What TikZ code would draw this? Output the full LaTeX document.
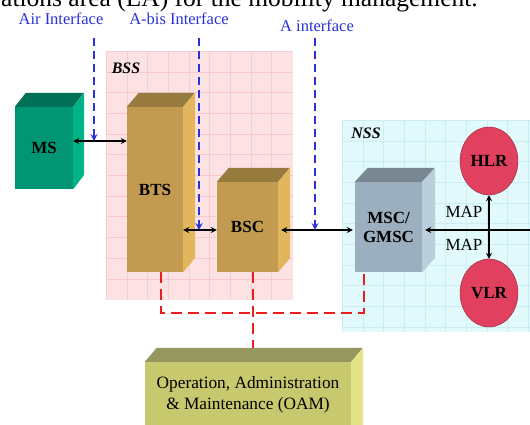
\documentclass[tikz,border=0pt]{standalone}
\usepackage{fontspec}
\setmainfont{Liberation Serif}
\usetikzlibrary{shapes.geometric}

\definecolor{msfront}{RGB}{0,150,115}
\definecolor{mstop}{RGB}{0,112,86}
\definecolor{msside}{RGB}{0,180,135}
\definecolor{btsfront}{RGB}{195,155,80}
\definecolor{btstop}{RGB}{150,122,62}
\definecolor{btsside}{RGB}{226,182,92}
\definecolor{mscfront}{RGB}{155,175,190}
\definecolor{msctop}{RGB}{120,135,145}
\definecolor{mscside}{RGB}{186,206,220}
\definecolor{oamfront}{RGB}{200,200,110}
\definecolor{oamtop}{RGB}{150,150,95}
\definecolor{oamside}{RGB}{228,228,135}
\definecolor{regred}{RGB}{225,65,95}
\definecolor{ifblue}{RGB}{40,50,215}
\definecolor{oamred}{RGB}{235,30,30}
\definecolor{bsspink}{RGB}{253,226,228}
\definecolor{bssgrid}{RGB}{248,202,207}
\definecolor{nsscyan}{RGB}{226,250,252}
\definecolor{nssgrid}{RGB}{202,238,243}

\tikzset{
  box/.style={inner sep=0pt, font=\fontsize{17}{19}\selectfont\bfseries},
  register/.style={ellipse, draw=regred!60!black, fill=regred, minimum width=58pt,
    minimum height=68pt, inner sep=0pt, font=\fontsize{17}{19}\selectfont\bfseries},
  iflabel/.style={text=ifblue, font=\fontsize{16.5}{18}\selectfont},
  ifline/.style={ifblue, line width=2pt, dash pattern=on 8pt off 5pt, ->},
  link/.style={line width=1.6pt, <->},
  oamline/.style={oamred, line width=2pt, dash pattern=on 11pt off 6pt},
}

\begin{document}
\begin{tikzpicture}[>=stealth, x=1pt, y=-1pt]
        \useasboundingbox (0,0) rectangle (530,424);

        % the line of text cut at the top
        \node[anchor=base west, inner sep=0pt, font=\fontsize{25.5}{27}\selectfont] (caption) at (1,6.5)
            {ations area (LA) for the mobility management.};

        % the BSS area with its grid
        \fill[bsspink] (106,51) rectangle (293,300);
        \foreach \i in {0,...,8}
        \draw[bssgrid, line width=0.4pt] (106+\i*20.7,51) -- +(0,249);
        \foreach \i in {0,...,11}
        \draw[bssgrid, line width=0.4pt] (106,51+\i*20.7) -- +(187,0);
        \node[font=\fontsize{16}{18}\selectfont\bfseries\itshape] (bss) at (126,68) {BSS};

        % the NSS area with its grid
        \fill[nsscyan] (342,120) rectangle (530,332);
        \foreach \i in {0,...,9}
        \draw[nssgrid, line width=0.4pt] (342+\i*20.7,120) -- +(0,212);
        \foreach \i in {0,...,10}
        \draw[nssgrid, line width=0.4pt] (342,120+\i*20.7) -- +(188,0);
        \node[font=\fontsize{16}{18}\selectfont\bfseries\itshape] (nss) at (366,133) {NSS};

        % The labels of the interfaces
        \node[iflabel] (air) at (61,19) {Air Interface};
        \node[iflabel] (abis) at (179,19) {A-bis Interface};
        \node[iflabel] (aif) at (317,26) {A interface};

        % the red dashed lines to the OAM
        \draw[oamline] (161,272) -- (161,313) -- (364,313) -- (364,272);
        \draw[oamline] (253,272) -- (253,360);

        % the MS box
        \node[box, fill=msfront, minimum width=58pt, minimum height=82pt] (ms) at (44,148) {MS};
        \fill[mstop] (ms.north west) -- ++(11,-14) -- ++(58,0) -- (ms.north east) -- cycle;
        \fill[msside] (ms.north east) -- ++(11,-14) -- ++(0,82) -- (ms.south east) -- cycle;

        % the BTS box
        \node[box, fill=btsfront, minimum width=56pt, minimum height=165pt] (bts) at (155,189.5) {BTS};
        \fill[btstop] (bts.north west) -- ++(12,-14) -- ++(56,0) -- (bts.north east) -- cycle;
        \fill[btsside] (bts.north east) -- ++(12,-14) -- ++(0,165) -- (bts.south east) -- cycle;

        % the BSC box
        \node[box, fill=btsfront, minimum width=61pt, minimum height=90pt] (bsc) at (247.5,227) {BSC};
        \fill[btstop] (bsc.north west) -- ++(12,-14) -- ++(61,0) -- (bsc.north east) -- cycle;
        \fill[btsside] (bsc.north east) -- ++(12,-14) -- ++(0,90) -- (bsc.south east) -- cycle;

        % the MSC/GMSC box
        \node[box, fill=mscfront, minimum width=67pt, minimum height=90pt, align=center] (msc) at (388.5,227)
            {MSC/\\GMSC};
        \fill[msctop] (msc.north west) -- ++(13,-14) -- ++(67,0) -- (msc.north east) -- cycle;
        \fill[mscside] (msc.north east) -- ++(13,-14) -- ++(0,90) -- (msc.south east) -- cycle;

        % the OAM box
        \node[box, fill=oamfront, minimum width=206pt, minimum height=80pt] (oam) at (248,402) {};
        \fill[oamtop] (oam.north west) -- ++(12,-14) -- ++(206,0) -- (oam.north east) -- cycle;
        \fill[oamside] (oam.north east) -- ++(12,-14) -- ++(0,80) -- (oam.south east) -- cycle;
        \node[font=\fontsize{17.3}{21}\selectfont, align=center] (oamtext) at (248,395)
            {Operation, Administration\\\& Maintenance (OAM)};

        % HLR and VLR
        \node[register] (hlr) at (489,161) {HLR};
        \node[register] (vlr) at (489,293) {VLR};

        % the black arrows between the boxes
        \coordinate (airend) at (94,141);
        \coordinate (abisend) at (199,230);
        \coordinate (aend) at (315,230);
        \coordinate (rightend) at (540,230);
        \draw[link] (ms.east |- airend) -- (bts.west |- airend);
        \draw[link] (bts.east |- abisend) -- (bsc.west |- abisend);
        \draw[link] ([xshift=3pt]bsc.east |- aend) -- ([xshift=-2pt]msc.west |- aend);
        \draw[link] ([xshift=3pt]msc.east |- rightend) -- (rightend);
        \draw[link] (hlr.south) -- (vlr.north);

        % MAP labels
        \node[font=\fontsize{17}{19}\selectfont] (map1) at (464,212) {MAP};
        \node[font=\fontsize{17}{19}\selectfont] (map2) at (464,245) {MAP};

        % the blue dashed lines of the interfaces
        \draw[ifline] (94,38) -- (airend);
        \draw[ifline] (199,38) -- (abisend);
        \draw[ifline] (315,38) -- (aend);
    \end{tikzpicture}
\end{document}
